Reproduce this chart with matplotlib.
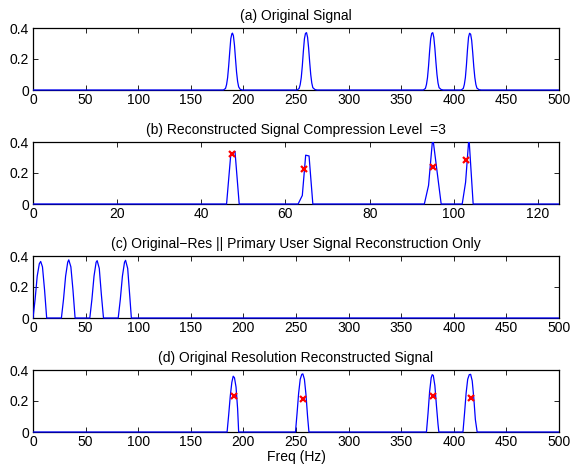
import matplotlib
matplotlib.use("Agg")
import matplotlib.pyplot as plt
from matplotlib.transforms import Bbox, TransformedBbox

plt.rcParams['font.family'] = ['Liberation Sans', 'DejaVu Sans']
plt.rcParams['font.size'] = 10

# (a) original signal, 0..500 Hz, four smooth bumps
a_p1_x = [181, 183, 184, 185, 186, 187, 188, 189, 189.6, 190.5, 191.5, 192.5, 193.5, 194.5, 195.5, 197, 199]
a_p1_y = [0, 0.01, 0.035, 0.08, 0.155, 0.245, 0.33, 0.362, 0.367, 0.35, 0.29, 0.2, 0.115, 0.055, 0.02, 0.004, 0]
a_p2_x = [251, 253, 254, 255, 256, 257, 258, 259, 260, 261, 262, 263, 264, 265, 266, 268, 270]
a_p2_y = [0, 0.01, 0.035, 0.08, 0.155, 0.25, 0.33, 0.365, 0.37, 0.34, 0.27, 0.18, 0.1, 0.045, 0.015, 0.003, 0]
a_p3_x = [371, 373, 374, 375, 376, 377, 378, 379, 380, 381, 382, 383, 384, 385, 386, 388, 390]
a_p3_y = [0, 0.01, 0.035, 0.08, 0.155, 0.25, 0.33, 0.365, 0.37, 0.34, 0.27, 0.18, 0.1, 0.045, 0.015, 0.003, 0]
a_p4_x = [407, 409, 410, 411, 412, 413, 414, 415, 416, 417, 418, 419, 420, 421, 422, 424, 426]
a_p4_y = [0, 0.01, 0.035, 0.08, 0.16, 0.26, 0.34, 0.366, 0.36, 0.32, 0.24, 0.15, 0.08, 0.035, 0.012, 0.002, 0]

# (b) compressed reconstruction, 0..125
b_x = [0, 46, 47, 48, 49, 63, 64, 64.8, 65.6, 66.5, 93, 94, 95, 97, 102, 102.8, 103.6, 104.6, 125]
b_y = [0, 0, 0.32, 0.34, 0, 0, 0.055, 0.315, 0.31, 0, 0, 0.12, 0.43, 0, 0, 0.14, 0.43, 0, 0]
b_mark_x = [47.3, 64.5, 95.0, 103.0]
b_mark_y = [0.325, 0.225, 0.24, 0.285]

# (c) primary user reconstruction only
c_x = [0, 2, 4, 6, 7.3, 9, 11, 13, 27, 29, 31, 33, 34, 36, 38, 40,
       54, 56, 58, 60, 61, 63, 65, 67, 81, 83, 85, 87, 88, 90, 92, 93.5, 500]
c_y = [0, 0.12, 0.27, 0.35, 0.365, 0.33, 0.18, 0, 0, 0.12, 0.27, 0.36, 0.375, 0.33, 0.18, 0,
       0, 0.12, 0.27, 0.36, 0.37, 0.32, 0.15, 0, 0, 0.12, 0.27, 0.36, 0.372, 0.32, 0.14, 0, 0]

# (d) original resolution reconstruction
d_x = [0, 184.5, 186, 187.5, 189, 190.3, 191.5, 193, 194.5, 195.5,
       249.5, 251, 252.5, 254, 255.5, 256.5, 258, 259.5, 261, 262.3,
       374, 375.5, 377, 378.5, 379.5, 380.5, 382, 383.5, 385, 385.8,
       408.7, 410.2, 411.7, 413.2, 414.7, 416, 417.5, 419, 420.5, 422.2, 500]
d_y = [0, 0, 0.11, 0.23, 0.32, 0.36, 0.35, 0.29, 0.15, 0,
       0, 0.12, 0.25, 0.34, 0.372, 0.375, 0.34, 0.24, 0.1, 0,
       0, 0.12, 0.26, 0.35, 0.37, 0.365, 0.3, 0.17, 0.05, 0,
       0, 0.12, 0.25, 0.34, 0.37, 0.372, 0.33, 0.22, 0.08, 0, 0]
d_mark_x = [191, 257, 380, 416]
d_mark_y = [0.232, 0.215, 0.23, 0.218]

titles = ['(a) Original Signal',
          '(b) Reconstructed Signal Compression Level  =3',
          '(c) Original\u2212Res || Primary User Signal Reconstruction Only',
          '(d) Original Resolution Reconstructed Signal']

a_x = [0] + a_p1_x + a_p2_x + a_p3_x + a_p4_x + [500]
a_y = [0] + a_p1_y + a_p2_y + a_p3_y + a_p4_y + [0]

fig = plt.figure(figsize=(5.71, 4.70), dpi=100)
W, H = 571.0, 470.0
left, right = 33 / W, 559 / W
tops = [28, 142, 256, 370]
axh = 62

series = [(a_x, a_y), (b_x, b_y), (c_x, c_y), (d_x, d_y)]
xmaxes = [500, 125, 500, 500]
xticks = [range(0, 501, 50), range(0, 121, 20), range(0, 501, 50), range(0, 501, 50)]

axes = []
for i in range(4):
    ax = fig.add_axes([left, 1 - (tops[i] + axh) / H, right - left, axh / H])
    x, y = series[i]
    line, = ax.plot(x, y, color='#0000ff', lw=0.9, zorder=3)
    # let the zero baseline sit fully on top of the bottom spine
    line.set_clip_box(TransformedBbox(Bbox([[0, -0.1], [1, 1]]), ax.transAxes))
    ax.set_xlim(0, xmaxes[i])
    ax.set_ylim(0, 0.4)
    ax.set_xticks(list(xticks[i]))
    ax.set_yticks([0, 0.2, 0.4])
    ax.set_yticklabels(['0', '0.2', '0.4'])
    ax.tick_params(direction='in', top=True, right=True, length=3.5, width=0.6,
                   labelsize=10, pad=3)
    ax.tick_params(axis='x', pad=2)
    for s in ax.spines.values():
        s.set_linewidth(0.9)
    ax.set_title(titles[i], fontsize=10, pad=6)
    axes.append(ax)

axes[1].plot(b_mark_x, b_mark_y, 'x', color='#ff0000', ms=5, mew=1.6, zorder=4)
axes[3].plot(d_mark_x, d_mark_y, 'x', color='#ff0000', ms=5, mew=1.6, zorder=4)
axes[3].set_xlabel('Freq (Hz)', fontsize=10, labelpad=1)

fig.savefig('out.png', dpi=100)
